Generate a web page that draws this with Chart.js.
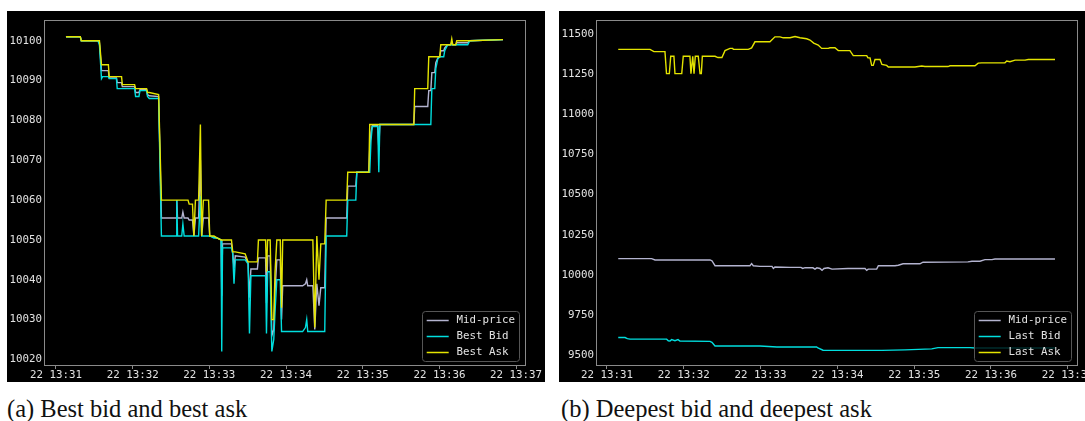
<!DOCTYPE html>
<html>
<head>
<meta charset="utf-8">
<script src="https://cdn.jsdelivr.net/npm/chart.js@4.4.1/dist/chart.umd.min.js"></script>
<style>
  html, body { margin: 0; padding: 0; background: #fff; width: 1085px; height: 421px; overflow: hidden; position: relative; }
  .panel { position: absolute; background: #000; }
  #p1 { left: 7px; top: 11px; width: 538px; height: 371px; }
  #p2 { left: 559px; top: 11px; width: 542px; height: 371px; }
  canvas { display: block; }
  .cap { position: absolute; font-family: 'Liberation Serif', 'Times New Roman', serif; font-size: 24.5px; line-height: 24px; color: #111; white-space: nowrap; }
</style>
</head>
<body>
<div class="panel" id="p1"><canvas id="c1" width="538" height="371"></canvas></div>
<div class="panel" id="p2"><canvas id="c2" width="542" height="371"></canvas></div>
<div class="cap" style="left:7px; top:397px;">(a) Best bid and best ask</div>
<div class="cap" style="left:561px; top:397px;">(b) Deepest bid and deepest ask</div>
<script>
// Seconds after 22 13:31:00
const xTickSeconds = [0, 60, 120, 180, 240, 300, 360];
const xTickLabels = ['22 13:31', '22 13:32', '22 13:33', '22 13:34', '22 13:35', '22 13:36', '22 13:37'];

// ---- (a) best bid / best ask ----
const leftTimes = [
  7.8, 19.0, 19.8, 32.8, 34.0, 35.6, 36.5, 41.0, 41.6, 47.3,
  47.9, 51.3, 51.9, 61.5, 62.3, 64.9, 65.7, 70.9, 71.6, 73.0,
  80.3, 82.5, 94.0, 94.5, 95.1, 98.4, 99.3, 100.3, 103.3, 104.2,
  106.8, 107.9, 109.1, 111.6, 113.0, 114.0, 115.3, 119.4, 120.3, 123.6,
  126.0, 129.2, 129.7, 130.3, 137.3, 138.3, 139.3, 140.3, 148.0, 150.3,
  151.4, 152.5, 157.6, 158.4, 164.0, 164.7, 165.6, 167.6, 168.9, 170.4,
  171.4, 172.8, 175.5, 176.5, 177.4, 193.0, 195.2, 196.2, 197.0, 201.0,
  202.5, 204.1, 205.8, 207.2, 210.3, 211.4, 227.5, 228.3, 234.6, 235.4,
  244.8, 245.5, 246.5, 247.5, 251.8, 252.6, 253.4, 280.0, 280.7, 290.9,
  291.7, 293.3, 294.1, 296.4, 297.2, 298.8, 300.3, 301.1, 303.4, 304.2,
  306.5, 308.9, 309.7, 310.5, 312.8, 313.6, 322.2, 323.7, 349.8
];
const leftBid = [
  10101, 10101, 10100, 10100, 10099, 10090.5, 10091, 10091, 10090.5, 10090.5,
  10088, 10088, 10088, 10088, 10086, 10086, 10087.5, 10087.5, 10086, 10085.5,
  10085.5, 10051, 10051, 10060, 10051, 10051, 10054, 10051, 10051, 10051,
  10051, 10051, 10051, 10051, 10061, 10051, 10051, 10051, 10051, 10050.5,
  10050.5, 10050, 10022, 10048, 10048, 10046.5, 10039, 10045, 10045, 10044,
  10026.5, 10041, 10041, 10041, 10041, 10026.5, 10042, 10042, 10022, 10025,
  10032, 10040, 10040, 10027, 10027, 10027, 10028, 10030, 10027, 10027,
  10027, 10027, 10027, 10027, 10027, 10051, 10051, 10060, 10060, 10067,
  10067, 10067, 10075, 10078.5, 10078.5, 10067, 10079, 10079, 10079, 10079,
  10079, 10079, 10088, 10088, 10093, 10095.5, 10096, 10096, 10096, 10097.5,
  10099, 10099, 10099, 10099, 10099, 10099, 10099, 10100, 10100.3
];
const leftAsk = [
  10101, 10101, 10100, 10100, 10100, 10094, 10094, 10094, 10091, 10091,
  10091, 10091, 10089, 10089, 10088, 10088, 10088, 10088, 10087, 10087,
  10086.5, 10060, 10060, 10060, 10060, 10060, 10060, 10060, 10060, 10059,
  10059, 10051, 10060, 10060, 10079, 10051, 10060, 10060, 10051, 10051,
  10050.5, 10050, 10050, 10050, 10050, 10047, 10047, 10047, 10046.5, 10044.5,
  10044.5, 10044.5, 10044.5, 10050, 10050, 10042, 10050, 10050, 10030, 10030,
  10042, 10050, 10050, 10033, 10050, 10050, 10050, 10050, 10050, 10050,
  10028, 10051, 10040, 10049, 10049, 10060, 10060, 10067, 10067, 10067,
  10067, 10079, 10079, 10079, 10079, 10079, 10079, 10079, 10088, 10088,
  10096, 10096, 10096, 10096, 10096, 10096, 10096, 10099, 10099, 10099,
  10099, 10099, 10100.5, 10099, 10099, 10100, 10100, 10100, 10100.3
];
const leftMid = [
  10101, 10101, 10100, 10100, 10099.5, 10092.5, 10092.5, 10092.5, 10090.7, 10090.7,
  10089.5, 10089.5, 10088.5, 10088.5, 10087, 10087, 10087.7, 10087.7, 10086.5, 10086.2,
  10086, 10055.5, 10055.5, 10060, 10055.5, 10055.5, 10057, 10055.5, 10055.5, 10055,
  10055, 10051, 10055.5, 10055.5, 10070, 10051, 10055.5, 10055.5, 10051, 10050.7,
  10050.5, 10050, 10036, 10049, 10049, 10046.7, 10043, 10046, 10045.7, 10044.2,
  10035.5, 10042.7, 10042.7, 10045.5, 10045.5, 10034.2, 10046, 10046, 10026, 10027.5,
  10037, 10045, 10045, 10030, 10038.5, 10038.5, 10039, 10040, 10038.5, 10038.5,
  10027.5, 10039, 10033.5, 10038, 10038, 10055.5, 10055.5, 10063.5, 10063.5, 10067,
  10067, 10073, 10077, 10078.7, 10078.7, 10073, 10079, 10079, 10083.5, 10083.5,
  10087.5, 10087.5, 10092, 10092, 10094.5, 10095.7, 10096, 10097.5, 10097.5, 10098.2,
  10099, 10099, 10099.7, 10099, 10099, 10099.5, 10099.5, 10100, 10100.3
];
const leftYTicks = [10020, 10030, 10040, 10050, 10060, 10070, 10080, 10090, 10100];

// ---- (b) deepest bid / deepest ask ----
const rightAskTimes = [
  8.8, 33.6, 36.7, 45.3, 46.5, 48.7, 49.8, 52.3, 53.1, 58.4,
  59.6, 64.8, 65.6, 67.0, 68.0, 69.0, 71.3, 72.7, 73.7, 74.5,
  84.4, 86.7, 89.8, 92.2, 96.1, 98.2, 98.7, 110.4, 113.0, 115.6,
  127.3, 131.2, 135.2, 137.7, 143.0, 146.9, 150.8, 156.0, 158.6, 161.5,
  165.0, 167.7, 172.9, 174.2, 178.1, 180.7, 189.8, 192.4, 202.9, 203.9,
  205.5, 206.8, 208.0, 209.4, 213.3, 214.8, 218.5, 219.8, 240.6, 245.9,
  248.4, 266.4, 268.0, 287.5, 290.0, 292.7, 310.9, 312.3, 314.8, 318.8,
  326.6, 329.1, 350.0
];
const rightAsk = [
  11404, 11404, 11390, 11390, 11253, 11253, 11361, 11361, 11253, 11253,
  11361, 11361, 11253, 11361, 11253, 11361, 11361, 11253, 11253, 11361,
  11361, 11353, 11353, 11396, 11410, 11410, 11404, 11404, 11413, 11451,
  11451, 11482, 11482, 11476, 11476, 11484, 11476, 11470, 11462, 11443,
  11431, 11410, 11410, 11414, 11414, 11396, 11396, 11365, 11365, 11351,
  11351, 11304, 11304, 11341, 11341, 11310, 11304, 11294, 11294, 11300,
  11297, 11297, 11302, 11302, 11318, 11320, 11320, 11331, 11327, 11337,
  11337, 11341, 11341
];
const rightMidTimes = [
  8.8, 34.9, 37.5, 80.5, 82.0, 84.4, 111.7, 113.0, 114.3, 119.5,
  128.9, 130.0, 131.2, 143.0, 151.5, 153.0, 154.7, 160.9, 162.5, 164.0,
  166.4, 168.0, 169.5, 172.7, 175.8, 188.3, 201.6, 202.9, 204.1, 210.7,
  212.0, 225.0, 227.6, 231.3, 244.5, 246.9, 282.0, 285.2, 291.4, 295.3,
  300.8, 303.1, 350.0
];
const rightMid = [
  10101, 10101, 10093, 10093, 10088, 10057, 10057, 10070, 10057, 10053,
  10053, 10040, 10049, 10047, 10047, 10040, 10045, 10044, 10036, 10044,
  10040, 10028, 10040, 10044, 10036, 10040, 10040, 10028, 10036, 10036,
  10057, 10057, 10060, 10069, 10069, 10079, 10081, 10085, 10085, 10095,
  10095, 10099, 10099
];
const rightBidTimes = [
  8.8, 14.1, 15.9, 18.0, 46.6, 47.9, 49.2, 50.5, 53.1, 55.5,
  57.0, 80.5, 82.0, 84.4, 119.5, 132.8, 163.8, 164.8, 168.8, 170.3,
  214.8, 232.8, 253.7, 258.6, 283.6, 287.5, 350.0
];
const rightBid = [
  9610, 9610, 9603, 9600, 9600, 9590, 9588, 9597, 9590, 9597,
  9588, 9586, 9580, 9557, 9557, 9551, 9551, 9545, 9531, 9530,
  9530, 9533, 9539, 9547, 9547, 9545, 9545
];
const rightYTicks = [9500, 9750, 10000, 10250, 10500, 10750, 11000, 11250, 11500];

const COLOR_MID = '#b4b4d0';
const COLOR_BID = '#00dede';
const COLOR_ASK = '#e4e400';
const TICK_FONT = { family: "'DejaVu Sans Mono', monospace", size: 10.8 };
const TEXT_COLOR = '#e2e2e2';
const AXIS_COLOR = '#8a8a8a';

function pts(times, vals) {
  return times.map((t, i) => ({ x: t, y: vals[i] }));
}

function lineSet(label, color, times, vals, order) {
  return {
    label, data: pts(times, vals), borderColor: color, backgroundColor: color,
    borderWidth: 1.4, pointRadius: 0, tension: 0, order
  };
}

// Frame around the plot area plus a framed legend in the lower right corner
const frameAndLegend = {
  id: 'frameAndLegend',
  afterDraw(chart) {
    const { ctx, chartArea: a } = chart;
    ctx.save();
    ctx.strokeStyle = AXIS_COLOR;
    ctx.lineWidth = 1;
    ctx.strokeRect(Math.round(a.left) - 0.5, Math.round(a.top) + 0.5,
      Math.round(a.right - a.left) + 1, Math.round(a.bottom - a.top) - 1);

    const sets = chart.data.datasets;
    ctx.font = `${TICK_FONT.size}px ${TICK_FONT.family}`;
    const tw = Math.max(...sets.map(d => ctx.measureText(d.label).width));
    const w = 4.5 + 22 + 8 + tw + 4;
    const h = 50;
    const x0 = a.right - 6 - w;
    const y0 = a.bottom - 5 - h;
    ctx.beginPath();
    ctx.roundRect(Math.round(x0) + 0.5, Math.round(y0) + 0.5, Math.round(w), h, 3);
    ctx.fillStyle = 'rgba(0,0,0,0.8)';
    ctx.fill();
    ctx.strokeStyle = '#555';
    ctx.stroke();
    ctx.textBaseline = 'middle';
    ctx.textAlign = 'left';
    sets.forEach((d, i) => {
      const cy = Math.round(y0 + 8.5 + i * 16) + 0.5;
      ctx.beginPath();
      ctx.moveTo(x0 + 4.7, cy);
      ctx.lineTo(x0 + 26.7, cy);
      ctx.strokeStyle = d.borderColor;
      ctx.lineWidth = 1.5;
      ctx.stroke();
      ctx.fillStyle = TEXT_COLOR;
      ctx.fillText(d.label, x0 + 34.5, cy);
    });
    ctx.restore();
  }
};

function makeChart(id, datasets, yMin, yMax, yTicks, xMin, xMax, rightPad) {
  return new Chart(document.getElementById(id), {
    type: 'line',
    data: { datasets },
    plugins: [frameAndLegend],
    options: {
      responsive: false,
      animation: false,
      events: [],
      layout: { padding: { left: 0, top: 3, right: rightPad, bottom: 0 } },
      plugins: { legend: { display: false }, tooltip: { enabled: false } },
      scales: {
        x: {
          type: 'linear', min: xMin, max: xMax,
          afterBuildTicks(axis) { axis.ticks = xTickSeconds.map(v => ({ value: v })); },
          afterFit(s) { s.height = 16; },
          border: { display: false },
          grid: { display: true, drawOnChartArea: false, drawTicks: true, tickLength: 3, color: AXIS_COLOR },
          ticks: {
            autoSkip: false, maxRotation: 0, padding: 0, color: TEXT_COLOR, font: TICK_FONT,
            callback: (v, i) => xTickLabels[i]
          }
        },
        y: {
          type: 'linear', min: yMin, max: yMax,
          afterBuildTicks(axis) { axis.ticks = yTicks.map(v => ({ value: v })); },
          afterFit(s) { s.width = 38; },
          border: { display: false },
          grid: { display: false, drawTicks: false },
          ticks: {
            padding: 3, color: TEXT_COLOR, font: TICK_FONT,
            callback: v => String(v)
          }
        }
      }
    }
  });
}

makeChart('c1', [
  lineSet('Mid-price', COLOR_MID, leftTimes, leftMid, 3),
  lineSet('Best Bid', COLOR_BID, leftTimes, leftBid, 2),
  lineSet('Best Ask', COLOR_ASK, leftTimes, leftAsk, 1)
], 10018.35, 10105.1, leftYTicks, -8.6, 367.0, 20);

makeChart('c2', [
  lineSet('Mid-price', COLOR_MID, rightMidTimes, rightMid, 3),
  lineSet('Last Bid', COLOR_BID, rightBidTimes, rightBid, 2),
  lineSet('Last Ask', COLOR_ASK, rightAskTimes, rightAsk, 1)
], 9432.7, 11583.8, rightYTicks, -7.8, 367.2, 24);
</script>
</body>
</html>
